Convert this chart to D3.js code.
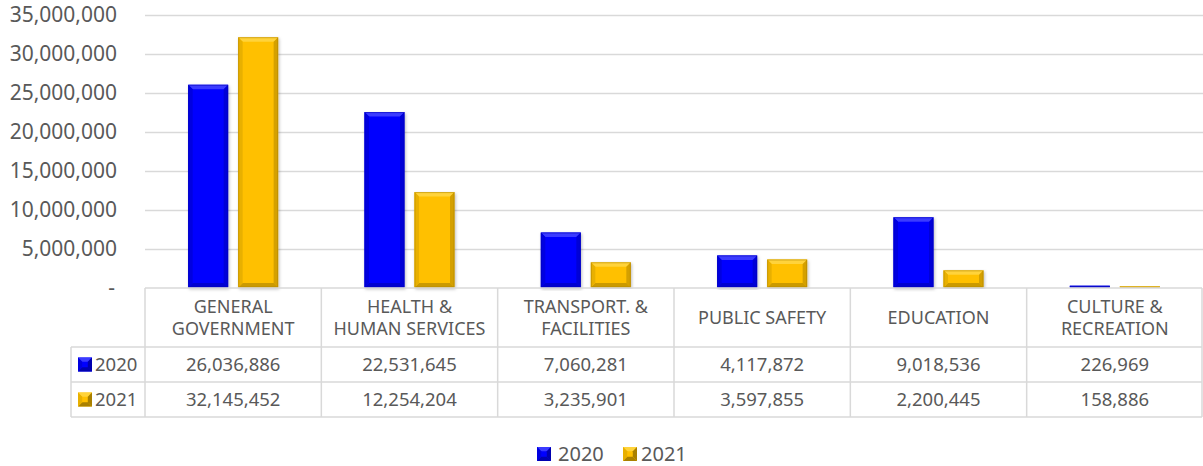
<!DOCTYPE html>
<html>
<head>
<meta charset="utf-8">
<script src="https://cdn.jsdelivr.net/npm/d3@7"></script>
<style>
  html, body { margin: 0; padding: 0; background: #fff; }
  svg { display: block; }
  text { font-family: "Noto Sans", "Open Sans", sans-serif; fill: #595959; }
</style>
</head>
<body>
<script>
// ---- Data ----
const categories = [
  ["GENERAL", "GOVERNMENT"],
  ["HEALTH &", "HUMAN SERVICES"],
  ["TRANSPORT. &", "FACILITIES"],
  ["PUBLIC SAFETY"],
  ["EDUCATION"],
  ["CULTURE &", "RECREATION"]
];
const seriesNames = ["2020", "2021"];
const values2020 = [26036886, 22531645, 7060281, 4117872, 9018536, 226969];
const values2021 = [32145452, 12254204, 3235901, 3597855, 2200445, 158886];
const yTicks = [0, 5000000, 10000000, 15000000, 20000000, 25000000, 30000000, 35000000];

const seriesValues = [values2020, values2021];
const colors = {
  "2020": { main: "#0000FF", light: "#3a3aff", dark: "#0000b0", side: "#0000e0" },
  "2021": { main: "#FFC000", light: "#ffd33a", dark: "#a98000", side: "#e8b000" }
};

const W = 1203, H = 466;
const svg = d3.select("body").append("svg").attr("width", W).attr("height", H);

const defs = svg.append("defs");
const f = defs.append("filter").attr("id", "shadow").attr("x", "-20%").attr("y", "-5%").attr("width", "140%").attr("height", "110%");
f.append("feDropShadow").attr("dx", 1).attr("dy", 1.5).attr("stdDeviation", 1.5).attr("flood-color", "#000").attr("flood-opacity", 0.25);

const catKeys = categories.map(c => c.join(" "));
const x = d3.scaleBand().domain(catKeys).range([145, 1203]);
const y = d3.scaleLinear().domain([0, 35000000]).range([287.5, 15]);
const xSub = d3.scaleBand().domain(seriesNames).range([-45, 45]).paddingInner(0.2);

// Gridlines
svg.append("g").selectAll("line").data(yTicks.filter(d => d > 0)).join("line")
  .attr("x1", 145).attr("x2", 1203)
  .attr("y1", d => Math.round(y(d)) + 0.5).attr("y2", d => Math.round(y(d)) + 0.5)
  .attr("stroke", "#d9d9d9").attr("stroke-width", 1.3);

// Y axis labels
const yAxis = d3.axisLeft(y).tickValues(yTicks)
  .tickFormat(d => d === 0 ? "-" : d3.format(",")(d)).tickSize(0).tickPadding(0);
const gy = svg.append("g").attr("transform", "translate(117,0)").call(yAxis);
gy.select(".domain").remove();
gy.selectAll("text").style("font-size", "21px").style("font-family", "'Noto Sans', sans-serif").attr("fill", "#595959");
gy.selectAll(".tick").filter(d => d === 0).select("text").attr("x", -2);

// Bars with bevel
function bevelBar(g, x0, y0, w, h, c) {
  const b = Math.max(0, Math.min(4.5, h / 2, w / 2));
  const grp = g.append("g").attr("filter", h > 3 ? "url(#shadow)" : null);
  grp.append("rect").attr("x", x0).attr("y", y0).attr("width", w).attr("height", h).attr("fill", c.main);
  if (b > 0.5) {
    grp.append("path").attr("d", `M${x0},${y0}L${x0 + w},${y0}L${x0 + w - b},${y0 + b}L${x0 + b},${y0 + b}Z`).attr("fill", c.light);
    grp.append("path").attr("d", `M${x0},${y0 + h}L${x0 + w},${y0 + h}L${x0 + w - b},${y0 + h - b}L${x0 + b},${y0 + h - b}Z`).attr("fill", c.dark).attr("opacity", 0.6);
    grp.append("path").attr("d", `M${x0},${y0}L${x0 + b},${y0 + b}L${x0 + b},${y0 + h - b}L${x0},${y0 + h}Z`).attr("fill", c.side);
    grp.append("path").attr("d", `M${x0 + w},${y0}L${x0 + w - b},${y0 + b}L${x0 + w - b},${y0 + h - b}L${x0 + w},${y0 + h}Z`).attr("fill", c.dark).attr("opacity", 0.5);
  }
  grp.append("rect").attr("x", x0 + 0.5).attr("y", y0 + 0.5).attr("width", Math.max(0, w - 1)).attr("height", Math.max(0, h - 1))
    .attr("fill", "none").attr("stroke", c.dark).attr("stroke-opacity", 0.5).attr("stroke-width", 1);
}

const barsG = svg.append("g");
catKeys.forEach((cat, i) => {
  const cx = x(cat) + x.bandwidth() / 2;
  seriesNames.forEach((s, j) => {
    const v = seriesValues[j][i];
    const top = y(v), bot = y(0);
    bevelBar(barsG, cx + xSub(s), top, xSub.bandwidth(), bot - top, colors[s]);
  });
});

// Data table
const tableTop = 288, headerBottom = 347, rowH = 35;
const tg = svg.append("g");
const lineColor = "#d9d9d9";
const xs = catKeys.map(c => x(c)).concat([1203]);
tg.append("line").attr("x1", 145).attr("x2", 1202).attr("y1", tableTop).attr("y2", tableTop).attr("stroke", lineColor).attr("stroke-width", 1.5);
[headerBottom, headerBottom + rowH, headerBottom + 2 * rowH].forEach(yy => {
  tg.append("line").attr("x1", 71).attr("x2", 1202).attr("y1", yy).attr("y2", yy).attr("stroke", lineColor).attr("stroke-width", 1.5);
});
xs.forEach((xx, k) => {
  const xv = k === xs.length - 1 ? 1202 : xx;
  tg.append("line").attr("x1", xv).attr("x2", xv).attr("y1", tableTop).attr("y2", headerBottom + 2 * rowH).attr("stroke", lineColor).attr("stroke-width", 1.5);
});
tg.append("line").attr("x1", 71).attr("x2", 71).attr("y1", headerBottom).attr("y2", headerBottom + 2 * rowH).attr("stroke", lineColor).attr("stroke-width", 1.5);

// header labels
categories.forEach((lines, i) => {
  const cx = x(catKeys[i]) + x.bandwidth() / 2;
  const cy = (tableTop + headerBottom) / 2;
  const lh = 22;
  const t = tg.append("text").attr("text-anchor", "middle").style("font-size", "18px");
  lines.forEach((ln, k) => {
    t.append("tspan").attr("x", cx).attr("y", cy + (k - (lines.length - 1) / 2) * lh).attr("dy", "0.35em").text(ln);
  });
});

// legend key
function legendKey(g, x0, y0, s, size) {
  const c = colors[s];
  const b = size * 0.3;
  g.append("rect").attr("x", x0).attr("y", y0).attr("width", size).attr("height", size).attr("fill", c.main);
  g.append("path").attr("d", `M${x0},${y0}L${x0 + size},${y0}L${x0 + size - b},${y0 + b}L${x0 + b},${y0 + b}Z`).attr("fill", c.light);
  g.append("path").attr("d", `M${x0},${y0 + size}L${x0 + size},${y0 + size}L${x0 + size - b},${y0 + size - b}L${x0 + b},${y0 + size - b}Z`).attr("fill", c.dark);
  g.append("path").attr("d", `M${x0 + size},${y0}L${x0 + size - b},${y0 + b}L${x0 + size - b},${y0 + size - b}L${x0 + size},${y0 + size}Z`).attr("fill", c.dark);
  g.append("path").attr("d", `M${x0},${y0}L${x0 + b},${y0 + b}L${x0 + b},${y0 + size - b}L${x0},${y0 + size}Z`).attr("fill", c.side);
}

// series rows
const fmt = d3.format(",");
seriesNames.forEach((s, j) => {
  const cy = headerBottom + j * rowH + rowH / 2;
  legendKey(tg, 78, cy - 7, s, 14);
  tg.append("text").attr("x", 95).attr("y", cy).attr("dy", "0.35em").style("font-size", "18.5px").text(s);
  seriesValues[j].forEach((v, i) => {
    const cx = x(catKeys[i]) + x.bandwidth() / 2;
    tg.append("text").attr("x", cx).attr("y", cy).attr("dy", "0.35em").attr("text-anchor", "middle").style("font-size", "18.5px").text(fmt(v));
  });
});

// bottom legend
const lg = svg.append("g");
const legendPos = [{ s: "2020", kx: 537, tx: 558 }, { s: "2021", kx: 623, tx: 641 }];
legendPos.forEach(p => {
  legendKey(lg, p.kx, 447, p.s, 14);
  lg.append("text").attr("x", p.tx).attr("y", 454).attr("dy", "0.35em").style("font-size", "20px").text(p.s);
});
</script>
</body>
</html>
